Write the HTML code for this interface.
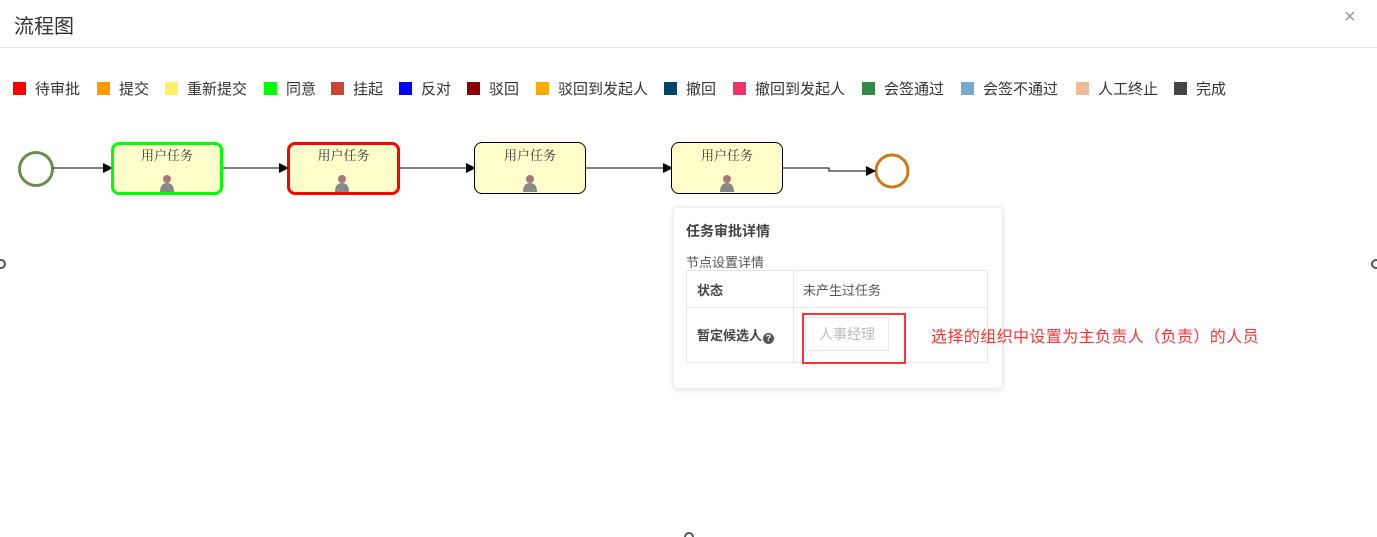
<!DOCTYPE html>
<html><head><meta charset="utf-8"><style>
body{margin:0;width:1377px;height:537px;background:#fff;position:relative;overflow:hidden;font-family:"Liberation Sans","Noto Sans CJK SC",sans-serif;color:#333}
.a{position:absolute}
.lg{position:absolute;top:81px;font-size:15px;color:#333;height:18px;line-height:18px;white-space:nowrap}
.lg i{display:inline-block;width:13px;height:13px;vertical-align:-1px;margin-right:9px}
.node{position:absolute;background:#ffffcc;border-radius:8px;box-sizing:border-box;text-align:center;font-family:"Noto Serif CJK SC",serif;font-size:13px;color:#333}
</style></head><body>
<div class="a" style="left:14px;top:10px;font-size:20px;color:#333">流程图</div>
<div class="a" style="left:1344px;top:6px;font-size:20px;color:#999">×</div>
<div class="a" style="left:0;top:47px;width:1377px;height:1px;background:#e5e5e5"></div>

<div class="lg" style="left:13px"><i style="background:#f00"></i>待审批</div>
<div class="lg" style="left:97px"><i style="background:#f90"></i>提交</div>
<div class="lg" style="left:165px"><i style="background:#fe6"></i>重新提交</div>
<div class="lg" style="left:264px"><i style="background:#0f0"></i>同意</div>
<div class="lg" style="left:331px"><i style="background:#c43"></i>挂起</div>
<div class="lg" style="left:399px"><i style="background:#00f"></i>反对</div>
<div class="lg" style="left:467px"><i style="background:#800"></i>驳回</div>
<div class="lg" style="left:536px"><i style="background:#fa0"></i>驳回到发起人</div>
<div class="lg" style="left:664px"><i style="background:#046"></i>撤回</div>
<div class="lg" style="left:733px"><i style="background:#e36"></i>撤回到发起人</div>
<div class="lg" style="left:862px"><i style="background:#384"></i>会签通过</div>
<div class="lg" style="left:961px"><i style="background:#7ac"></i>会签不通过</div>
<div class="lg" style="left:1076px"><i style="background:#eb9"></i>人工终止</div>
<div class="lg" style="left:1174px"><i style="background:#444"></i>完成</div>

<svg class="a" style="left:0;top:0" width="1377" height="537">
<defs><marker id="m" markerWidth="10" markerHeight="10" refX="9" refY="5" orient="auto" markerUnits="userSpaceOnUse"><path d="M0,0L10,5L0,10z" fill="#000"/></marker></defs>
<circle cx="36" cy="169" r="16.5" fill="#fff" stroke="#6b8e4e" stroke-width="3"/>
<circle cx="892" cy="171" r="16" fill="#fff" stroke="#cc7a1a" stroke-width="3"/>
<line x1="53" y1="168" x2="112" y2="168" stroke="#000" marker-end="url(#m)"/>
<line x1="222" y1="168" x2="288" y2="168" stroke="#000" marker-end="url(#m)"/>
<line x1="399" y1="168" x2="475" y2="168" stroke="#000" marker-end="url(#m)"/>
<line x1="585" y1="168" x2="672" y2="168" stroke="#000" marker-end="url(#m)"/>
<polyline points="782,168 829,168 829,171 875,171" fill="none" stroke="#000" marker-end="url(#m)"/>
<circle cx="1" cy="264" r="4" fill="none" stroke="#555" stroke-width="2"/>
<circle cx="1376" cy="264" r="4" fill="none" stroke="#555" stroke-width="2"/>
<circle cx="689" cy="537" r="4" fill="none" stroke="#555" stroke-width="2"/>
</svg>

<div class="node" style="left:111px;top:142px;width:112px;height:53px;border:3px solid #0f0;padding-top:0">用户任务</div>
<div class="node" style="left:287px;top:142px;width:113px;height:53px;border:3px solid #f00;padding-top:0">用户任务</div>
<div class="node" style="left:474px;top:142px;width:112px;height:52px;border:1px solid #000;padding-top:2px">用户任务</div>
<div class="node" style="left:671px;top:142px;width:112px;height:52px;border:1px solid #000;padding-top:2px">用户任务</div>
<svg class="a" style="left:159px;top:174px" width="16" height="18"><circle cx="8" cy="5" r="4" fill="#a77"/><path d="M1,18 Q1,9 8,9 Q15,9 15,18z" fill="#888"/></svg>
<svg class="a" style="left:334px;top:174px" width="16" height="18"><circle cx="8" cy="5" r="4" fill="#a77"/><path d="M1,18 Q1,9 8,9 Q15,9 15,18z" fill="#888"/></svg>
<svg class="a" style="left:522px;top:174px" width="16" height="18"><circle cx="8" cy="5" r="4" fill="#a77"/><path d="M1,18 Q1,9 8,9 Q15,9 15,18z" fill="#888"/></svg>
<svg class="a" style="left:719px;top:174px" width="16" height="18"><circle cx="8" cy="5" r="4" fill="#a77"/><path d="M1,18 Q1,9 8,9 Q15,9 15,18z" fill="#888"/></svg>

<div class="a" style="left:673px;top:207px;width:328px;height:180px;background:#fff;border:1px solid #eee;border-radius:4px;box-shadow:0 1px 6px rgba(0,0,0,.12)"></div>
<div class="a" style="left:686px;top:221px;font-size:14px;font-weight:bold;color:#444">任务审批详情</div>
<div class="a" style="left:686px;top:252px;font-size:13px;color:#555">节点设置详情</div>
<div class="a" style="left:686px;top:270px;width:300px;height:91px;border:1px solid #e5e5e5"></div>
<div class="a" style="left:686px;top:307px;width:302px;height:1px;background:#e5e5e5"></div>
<div class="a" style="left:793px;top:270px;width:1px;height:92px;background:#e5e5e5"></div>
<div class="a" style="left:697px;top:280px;font-size:13px;font-weight:bold;color:#444">状态</div>
<div class="a" style="left:803px;top:280px;font-size:13px;color:#555">未产生过任务</div>
<div class="a" style="left:697px;top:325px;font-size:13px;font-weight:bold;color:#444">暂定候选人<span style="display:inline-block;width:11px;height:11px;border-radius:50%;background:#555;color:#fff;font-size:9px;line-height:11px;text-align:center;vertical-align:-1px;margin-left:1px">?</span></div>
<div class="a" style="left:805px;top:317px;width:84px;height:34px;border:1px solid #e8e8e8;box-sizing:border-box;font-size:14px;color:#bbb;line-height:32px;text-align:center">人事经理</div>
<div class="a" style="left:802px;top:313px;width:100px;height:47px;border:2px solid #f33"></div>
<div class="a" style="left:931px;top:323px;font-size:16px;letter-spacing:0.4px;color:#f33;white-space:nowrap">选择的组织中设置为主负责人（负责）的人员</div>
</body></html>
